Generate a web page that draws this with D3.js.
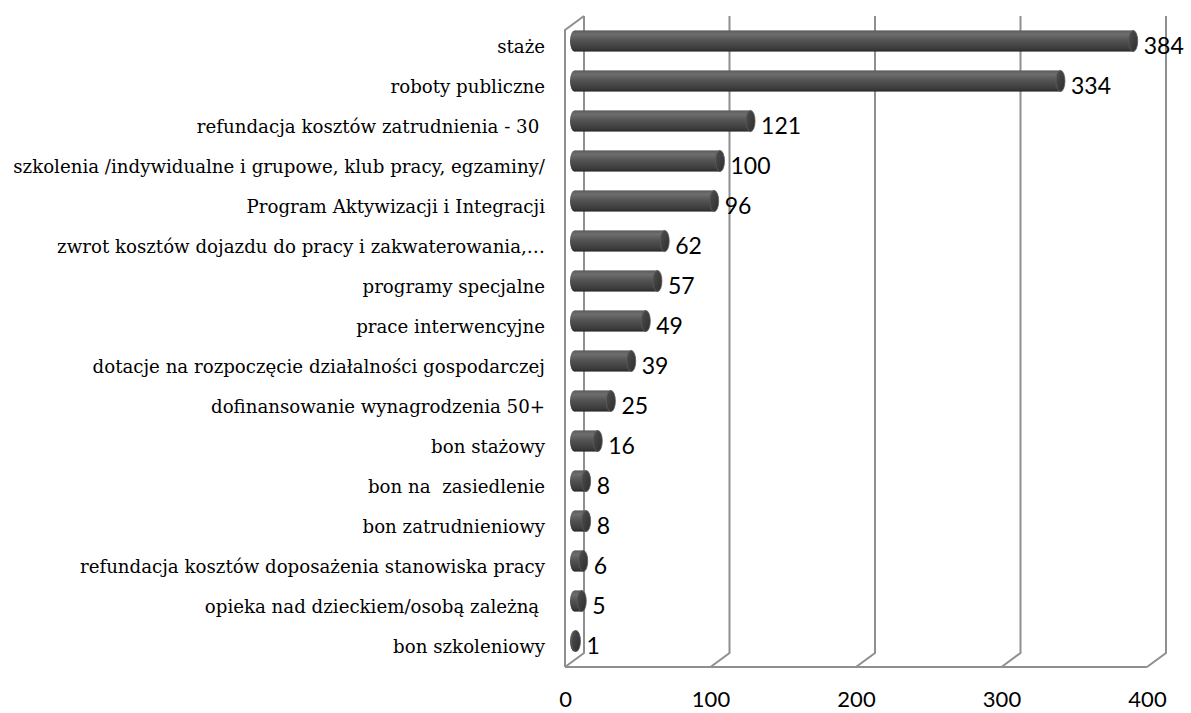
<!DOCTYPE html>
<html>
<head>
<meta charset="utf-8">
<script src="https://cdn.jsdelivr.net/npm/d3@7"></script>
<style>
  body { margin: 0; background: #fff; }
  .cat text { font-family: "DejaVu Serif", serif; font-size: 18.2px; fill: #000; white-space: pre; }
  .xax text { font-family: Lato, sans-serif; font-size: 22px; fill: #000; }
  .val { font-family: Lato, sans-serif; font-size: 23px; fill: #000; }
</style>
</head>
<body>
<svg id="chart" width="1191" height="713"></svg>
<script>
// categories top -> bottom
var categories = [
  "staże",
  "roboty publiczne",
  "refundacja kosztów zatrudnienia - 30 ",
  "szkolenia /indywidualne i grupowe, klub pracy, egzaminy/",
  "Program Aktywizacji i Integracji",
  "zwrot kosztów dojazdu do pracy i zakwaterowania,…",
  "programy specjalne",
  "prace interwencyjne",
  "dotacje na rozpoczęcie działalności gospodarczej",
  "dofinansowanie wynagrodzenia 50+",
  "bon stażowy",
  "bon na  zasiedlenie",
  "bon zatrudnieniowy",
  "refundacja kosztów doposażenia stanowiska pracy",
  "opieka nad dzieckiem/osobą zależną ",
  "bon szkoleniowy"
];
var values = [384, 334, 121, 100, 96, 62, 57, 49, 39, 25, 16, 8, 8, 6, 5, 1];
var ticks = [0, 100, 200, 300, 400];

var svg = d3.select("#chart");

// 3d box: front plane and depth offset
var depthX = 19, depthY = -14;
var top_y = 30, bottom_y = 667;

var x = d3.scaleLinear().domain([0, 400]).range([565, 1147]);
var y = d3.scaleBand().domain(categories).range([27, 667]).padding(0);

var data = categories.map(function(c, i) { return {name: c, value: values[i]}; });

// gradients
var defs = svg.append("defs");
var g1 = defs.append("linearGradient").attr("id", "body").attr("x1", 0).attr("y1", 0).attr("x2", 0).attr("y2", 1);
g1.append("stop").attr("offset", "0%").attr("stop-color", "#5a5a5a");
g1.append("stop").attr("offset", "18%").attr("stop-color", "#6e6e6e");
g1.append("stop").attr("offset", "45%").attr("stop-color", "#555555");
g1.append("stop").attr("offset", "85%").attr("stop-color", "#3c3c3c");
g1.append("stop").attr("offset", "100%").attr("stop-color", "#2a2a2a");
var g2 = defs.append("linearGradient").attr("id", "cap").attr("x1", 0).attr("y1", 0).attr("x2", 1).attr("y2", 1);
g2.append("stop").attr("offset", "0%").attr("stop-color", "#505050");
g2.append("stop").attr("offset", "100%").attr("stop-color", "#2c2c2c");

// grid / walls
var grid = svg.append("g").attr("stroke", "#8f8f8f").attr("stroke-width", 2).attr("fill", "none");
ticks.forEach(function(t) {
  var fx = x(t);
  grid.append("path")
    .attr("d", "M" + (fx + depthX) + "," + (top_y + depthY) + "V" + (bottom_y + depthY) + "L" + fx + "," + bottom_y);
});
// left wall front edge + top diagonal
grid.append("path")
  .attr("d", "M" + (x(0) + depthX) + "," + (top_y + depthY) + "L" + x(0) + "," + top_y + "V" + bottom_y);
// floor front edge
grid.append("path").attr("d", "M" + x(0) + "," + bottom_y + "H" + x(400));

// bars (cylinders at mid depth)
var bh = y.step() * 0.53;
var rx = 4.5;
var bars = svg.append("g").selectAll("g").data(data).enter().append("g")
  .attr("transform", function(d) {
    return "translate(" + (depthX / 2) + "," + (y(d.name) + y.step() / 2 - 6) + ")";
  });
bars.append("ellipse")
  .attr("cx", x(0)).attr("cy", 0).attr("rx", rx).attr("ry", bh / 2)
  .attr("fill", "url(#body)");
bars.append("rect")
  .attr("x", x(0)).attr("y", -bh / 2)
  .attr("width", function(d) { return x(d.value) - x(0); })
  .attr("height", bh)
  .attr("fill", "url(#body)");
bars.append("ellipse")
  .attr("cx", function(d) { return x(d.value); }).attr("cy", 0)
  .attr("rx", rx).attr("ry", bh / 2)
  .attr("fill", "url(#cap)")
  .attr("stroke", "#5c5c5c").attr("stroke-width", 0.8);

// value labels
bars.append("text")
  .attr("class", "val")
  .attr("x", function(d) { return x(d.value) + rx + 6; })
  .attr("y", 5)
  .attr("dy", "0.36em")
  .text(function(d) { return d.value; });

// category axis
svg.append("g")
  .attr("class", "cat")
  .attr("transform", "translate(545,0)")
  .call(d3.axisLeft(y).tickSize(0).tickPadding(0))
  .call(function(g) { g.select(".domain").remove(); });

// value axis
svg.append("g")
  .attr("class", "xax")
  .attr("transform", "translate(0," + bottom_y + ")")
  .call(d3.axisBottom(x).tickValues(ticks).tickSize(0).tickPadding(24))
  .call(function(g) { g.select(".domain").remove(); });

svg.selectAll(".cat, .xax").attr("font-family", null).attr("font-size", null);
</script>
</body>
</html>
